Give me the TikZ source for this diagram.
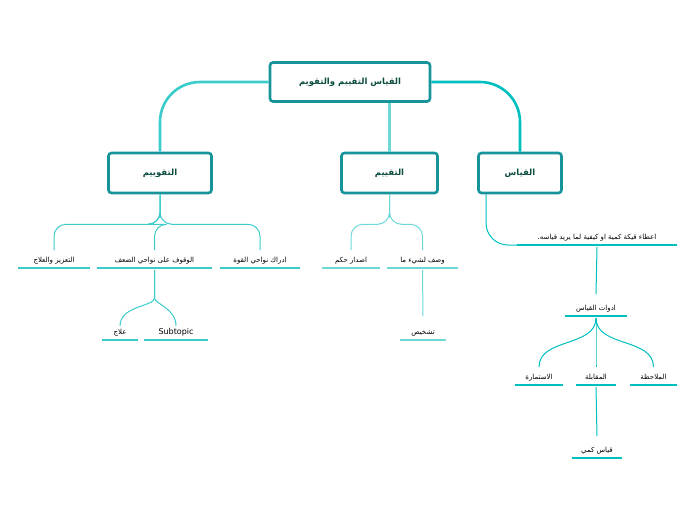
\documentclass[tikz,border=0pt]{standalone}
\usepackage{fontspec}
\setmainfont{DejaVu Sans}
\newfontfamily\arabicfont[Script=Arabic]{DejaVu Sans}
\TeXXeTstate=1
\usepackage{tikz}
\usetikzlibrary{positioning}

\definecolor{boxline}{HTML}{16949A}
\definecolor{tealA}{HTML}{3CCBCB}
\definecolor{tealB}{HTML}{6ED8D8}
\definecolor{tealC}{HTML}{00BFBF}
\definecolor{headtxt}{HTML}{0B4D3F}

\tikzset{
  mainbox/.style={draw=boxline, line width=2.6pt, rounded corners=3pt, fill=white,
    font=\arabicfont\bfseries\fontsize{8.5}{10}\selectfont, text=headtxt, inner sep=0pt},
  topic/.style={anchor=south, inner sep=0pt, text height=7pt, text depth=5pt,
    font=\arabicfont\fontsize{7}{8}\selectfont, text=black},
  uline/.style={line width=2.2pt},
  link/.style={line width=1pt, rounded corners=12pt},
}

\newcommand{\ar}[1]{\beginR #1\endR}

\begin{document}
\begin{tikzpicture}[x=1pt,y=1pt]
  \useasboundingbox (0,0) rectangle (696,-520);

  % boxes
  \node[mainbox, minimum width=160pt, minimum height=39pt](root) at (350,-82){\ar{القياس التقييم والتقويم}};
  \node[mainbox, minimum width=103pt, minimum height=40pt](taqwim) at (160,-173){\ar{التقوييم}};
  \node[mainbox, minimum width=96pt, minimum height=40pt](taqyim) at (389.5,-173){\ar{التقييم}};
  \node[mainbox, minimum width=83pt, minimum height=40pt](qiyas) at (520,-173){\ar{القياس}};

  % topics
  \node[topic, minimum width=72pt](taziz) at (54,-268){\ar{التعزيز والعلاج}};
  \node[topic, minimum width=115pt](wuquf) at (154.5,-268){\ar{الوقوف على نواحي الضعف}};
  \node[topic, minimum width=80pt](idrak) at (260,-268){\ar{ادراك نواحي القوة}};
  \node[topic, minimum width=36pt](ilaj) at (120,-340){\ar{علاج}};
  \node[topic, minimum width=64pt, font=\fontsize{8}{9}\selectfont](sub) at (176,-340){Subtopic};
  \node[topic, minimum width=58pt](hukm) at (351,-268){\ar{اصدار حكم}};
  \node[topic, minimum width=71pt](wasf) at (422.5,-268){\ar{وصف لشيء ما}};
  \node[topic, minimum width=46pt](tashkhis) at (423,-340){\ar{تشخيص}};
  \node[topic, minimum width=160pt](itaa) at (597,-245){\ar{اعطاء قيكة كمية او كيفية لما يريد قياسه.}};
  \node[topic, minimum width=62pt](adawat) at (596,-316){\ar{ادوات القياس}};
  \node[topic, minimum width=48pt](istimara) at (539,-385){\ar{الاستمارة}};
  \node[topic, minimum width=40pt](muqabala) at (596,-385){\ar{المقابلة}};
  \node[topic, minimum width=47pt](mulahaza) at (653.5,-385){\ar{الملاحظة}};
  \node[topic, minimum width=50pt](kammi) at (597,-458){\ar{قياس كمي}};

  % underlines
  \foreach \n/\c in {taziz/tealA, wuquf/tealA, idrak/tealA, ilaj/tealA, sub/tealA,
      hukm/tealB, wasf/tealB, tashkhis/tealB,
      itaa/tealC, adawat/tealC, istimara/tealC, muqabala/tealC, mulahaza/tealC, kammi/tealC}
    \draw[uline, \c] (\n.south west) -- (\n.south east);

  % main connectors
  \draw[tealA, line width=2.6pt, rounded corners=40pt] (root.west) -| (taqwim.north);
  \draw[tealB, line width=2.6pt] (root.south -| taqyim.north) -- (taqyim.north);
  \draw[tealC, line width=2.6pt, rounded corners=40pt] (root.east) -| (qiyas.north);

  % branches
  \foreach \c in {taziz, wuquf, idrak}
    \draw[tealA, link] (taqwim.south) |- ++(0,-30) -| ([yshift=18pt]\c.south);
  \foreach \c in {ilaj, sub}
    \draw[tealA, link] ([yshift=-2pt]wuquf.south) -- ++(0,-16) to[out=-90,in=90] ([yshift=14pt]\c.south);
  \foreach \c in {hukm, wasf}
    \draw[tealB, link] (taqyim.south) |- ++(0,-30) -| ([yshift=18pt]\c.south);
  \draw[tealB, line width=1pt] ([yshift=-2pt]wasf.south) -- ([yshift=24pt]tashkhis.south);
  \draw[tealC, line width=1pt, rounded corners=22pt] ([xshift=-34pt]qiyas.south) |- (itaa.south west);
  \draw[tealC, line width=1pt] ([yshift=-2pt]itaa.south) -- ([yshift=22pt]adawat.south);
  \foreach \c in {istimara, muqabala, mulahaza}
    \draw[tealC, line width=1pt] ([yshift=-2pt]adawat.south) to[out=-90,in=90] ([yshift=18pt]\c.south);
  \draw[tealC, line width=1pt] ([yshift=-2pt]muqabala.south) -- ([yshift=22pt]kammi.south);
\end{tikzpicture}
\end{document}
